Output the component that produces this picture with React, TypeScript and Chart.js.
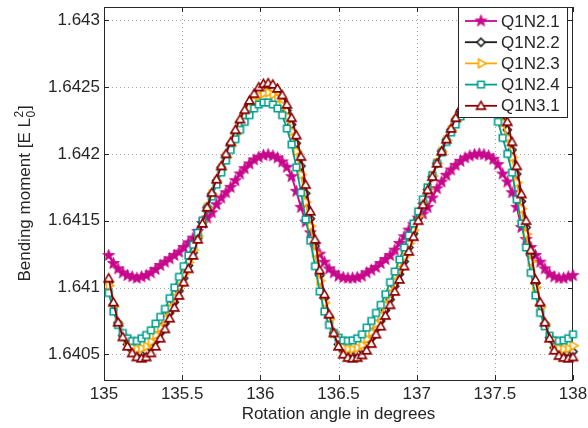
import React, { useEffect, useRef } from 'react';
import { Chart, registerables } from 'chart.js';

Chart.register(...registerables);

// Rotation angle (degrees)
const angles = [
  135.03, 135.06, 135.09, 135.12, 135.15, 135.18, 135.21, 135.24, 135.27, 135.30,
  135.33, 135.36, 135.39, 135.42, 135.45, 135.48, 135.51, 135.54, 135.57, 135.60,
  135.63, 135.66, 135.69, 135.72, 135.75, 135.78, 135.81, 135.84, 135.87, 135.90,
  135.93, 135.96, 135.99, 136.02, 136.05, 136.08, 136.11, 136.14, 136.17, 136.20,
  136.23, 136.26, 136.29, 136.32, 136.35, 136.38, 136.41, 136.44, 136.47, 136.50,
  136.53, 136.56, 136.59, 136.62, 136.65, 136.68, 136.71, 136.74, 136.77, 136.80,
  136.83, 136.86, 136.89, 136.92, 136.95, 136.98, 137.01, 137.04, 137.07, 137.10,
  137.13, 137.16, 137.19, 137.22, 137.25, 137.28, 137.31, 137.34, 137.37, 137.40,
  137.43, 137.46, 137.49, 137.52, 137.55, 137.58, 137.61, 137.64, 137.67, 137.70,
  137.73, 137.76, 137.79, 137.82, 137.85, 137.88, 137.91, 137.94, 137.97, 138.00,
];

const q1n21 = [
  1.64124, 1.64118, 1.64114, 1.64111, 1.64109, 1.64108, 1.64107, 1.64108, 1.64109, 1.64111,
  1.641135, 1.641165, 1.64119, 1.641215, 1.64124, 1.641265, 1.6413, 1.641335, 1.64137, 1.64142,
  1.64148, 1.64152, 1.64156, 1.64162, 1.64167, 1.64171, 1.64175, 1.6418, 1.64185, 1.64189,
  1.641925, 1.641955, 1.641975, 1.64199, 1.641995, 1.641985, 1.64197, 1.64194, 1.6419, 1.64183,
  1.64172, 1.6416, 1.64149, 1.64141, 1.64132, 1.64125, 1.64119, 1.64114, 1.64111, 1.641085,
  1.641075, 1.64107, 1.64107, 1.641075, 1.641085, 1.64111, 1.64113, 1.64115, 1.64118, 1.64121,
  1.64124, 1.64128, 1.64133, 1.64138, 1.64143, 1.64147, 1.64152, 1.64155, 1.6416, 1.64167,
  1.64174, 1.64179, 1.64184, 1.64188, 1.641915, 1.641945, 1.64197, 1.641985, 1.641995, 1.642,
  1.641995, 1.641985, 1.64196, 1.64192, 1.64185, 1.64179, 1.64171, 1.6416, 1.64145, 1.64136,
  1.6413, 1.64124, 1.64119, 1.64114, 1.6411, 1.64108, 1.64107, 1.64107, 1.64108, 1.64109,
];

const q1n22 = [
  1.64104, 1.64087, 1.640735, 1.64064, 1.640575, 1.64053, 1.64051, 1.64051, 1.64052, 1.64055,
  1.6406, 1.64066, 1.64073, 1.64081, 1.64089, 1.640975, 1.64107, 1.641165, 1.64126, 1.64137,
  1.641485, 1.6416, 1.6417, 1.6418, 1.6419, 1.64199, 1.642075, 1.64216, 1.64224, 1.64231,
  1.64237, 1.64242, 1.64247, 1.64249, 1.642495, 1.64248, 1.64245, 1.6424, 1.642325, 1.64222,
  1.64208, 1.64191, 1.641705, 1.641515, 1.64131, 1.64109, 1.64092, 1.64078, 1.64066, 1.640575,
  1.640525, 1.640505, 1.640505, 1.64051, 1.640535, 1.64057, 1.64062, 1.64069, 1.64075, 1.64083,
  1.64091, 1.64101, 1.6411, 1.641195, 1.6413, 1.641405, 1.64152, 1.64163, 1.641735, 1.64183,
  1.64193, 1.64202, 1.642105, 1.64218, 1.64226, 1.642325, 1.64238, 1.642435, 1.64247, 1.64249,
  1.64249, 1.642475, 1.64244, 1.642375, 1.64229, 1.64218, 1.64203, 1.64185, 1.641645, 1.64145,
  1.64124, 1.64103, 1.64087, 1.64073, 1.640625, 1.64055, 1.64052, 1.64051, 1.64051, 1.64052,
];

const q1n23 = [
  1.641015, 1.640855, 1.64073, 1.640645, 1.64059, 1.640555, 1.64054, 1.640545, 1.64056, 1.640595,
  1.640645, 1.6407, 1.640765, 1.640845, 1.640925, 1.64101, 1.6411, 1.64119, 1.64128, 1.641385,
  1.64149, 1.641595, 1.641695, 1.64179, 1.641885, 1.641975, 1.64206, 1.642145, 1.64222, 1.642285,
  1.642345, 1.642395, 1.642435, 1.642455, 1.64246, 1.642445, 1.642415, 1.642365, 1.64228, 1.64217,
  1.64202, 1.641845, 1.64164, 1.64146, 1.64126, 1.64105, 1.640885, 1.64076, 1.64066, 1.64059,
  1.64055, 1.64054, 1.64054, 1.64055, 1.64057, 1.640615, 1.640665, 1.64073, 1.64079, 1.64087,
  1.640955, 1.641045, 1.641135, 1.64123, 1.64133, 1.64143, 1.641535, 1.64164, 1.64174, 1.641835,
  1.64193, 1.642015, 1.6421, 1.642175, 1.642245, 1.64231, 1.64236, 1.64241, 1.64244, 1.642455,
  1.642455, 1.64243, 1.642395, 1.64233, 1.642235, 1.64212, 1.641975, 1.641785, 1.64159, 1.6414,
  1.641195, 1.641, 1.64085, 1.640725, 1.64063, 1.64057, 1.640545, 1.64054, 1.640545, 1.640565,
];

const q1n24 = [
  1.64096, 1.64082, 1.64072, 1.64066, 1.64062, 1.6406, 1.6406, 1.64062, 1.640645, 1.64068,
  1.64073, 1.64078, 1.64084, 1.64092, 1.641, 1.64108, 1.64116, 1.64124, 1.64132, 1.64141,
  1.6415, 1.64159, 1.64168, 1.64177, 1.64186, 1.64195, 1.64203, 1.64211, 1.64218, 1.64224,
  1.64229, 1.64234, 1.64237, 1.642385, 1.642385, 1.64237, 1.64234, 1.64229, 1.64219, 1.64207,
  1.6419, 1.64171, 1.64151, 1.64135, 1.64116, 1.64097, 1.64082, 1.64072, 1.64066, 1.640625,
  1.640605, 1.6406, 1.640605, 1.64062, 1.64065, 1.6407, 1.64075, 1.64081, 1.64087, 1.64095,
  1.64104, 1.64112, 1.64121, 1.6413, 1.64139, 1.64148, 1.64157, 1.64166, 1.64175, 1.64184,
  1.64193, 1.64201, 1.64209, 1.64216, 1.64222, 1.64228, 1.642325, 1.64236, 1.64238, 1.642385,
  1.642375, 1.64235, 1.64231, 1.64224, 1.64212, 1.642, 1.64186, 1.64166, 1.64148, 1.6413,
  1.64111, 1.64094, 1.64081, 1.64071, 1.64064, 1.640605, 1.6406, 1.640605, 1.64062, 1.64065,
];

const q1n31 = [
  1.64107, 1.64089, 1.64074, 1.64063, 1.64056, 1.64051, 1.64048, 1.64047, 1.64048, 1.64051,
  1.64056, 1.64062, 1.64069, 1.64077, 1.64085, 1.64094, 1.64104, 1.64114, 1.64124, 1.64136,
  1.64148, 1.6416, 1.64171, 1.64181, 1.64191, 1.642, 1.64209, 1.64218, 1.64226, 1.64233,
  1.6424, 1.64245, 1.6425, 1.642525, 1.64253, 1.64252, 1.64249, 1.64244, 1.64237, 1.64227,
  1.64214, 1.64198, 1.64177, 1.64157, 1.64136, 1.64113, 1.64095, 1.6408, 1.64066, 1.64056,
  1.6405, 1.640475, 1.64047, 1.640475, 1.640495, 1.64053, 1.64058, 1.64065, 1.64071, 1.64079,
  1.64087, 1.64097, 1.64106, 1.64116, 1.64127, 1.64138, 1.6415, 1.64162, 1.64173, 1.64183,
  1.64193, 1.64202, 1.64211, 1.64219, 1.64227, 1.64234, 1.6424, 1.64246, 1.6425, 1.642525,
  1.64253, 1.642515, 1.64248, 1.64242, 1.64235, 1.64224, 1.64209, 1.64191, 1.6417, 1.6415,
  1.64128, 1.64106, 1.64089, 1.64074, 1.64062, 1.64053, 1.64049, 1.640475, 1.64047, 1.64048,
];

const seriesNames = ['Q1N2.1', 'Q1N2.2', 'Q1N2.3', 'Q1N2.4', 'Q1N3.1'];
const seriesValues = [q1n21, q1n22, q1n23, q1n24, q1n31];
const seriesColors = ['#C8088C', '#1a1a1a', '#FFAA00', '#00A090', '#8B0000'];
const seriesMarkers = ['star', 'diamond', 'triRight', 'square', 'triUp'];

const xTicks = [135, 135.5, 136, 136.5, 137, 137.5, 138];
const xTickLabels = ['135', '135.5', '136', '136.5', '137', '137.5', '138'];
const yTicks = [1.6405, 1.641, 1.6415, 1.642, 1.6425, 1.643];
const yTickLabels = ['1.6405', '1.641', '1.6415', '1.642', '1.6425', '1.643'];

const xTitle = 'Rotation angle in degrees';
const yTitleMain = 'Bending moment [E L';
const yTitleSup = '2';
const yTitleSub = '0';
const yTitleEnd = ']';

const FONT = "'Liberation Sans', Arial, Helvetica, sans-serif";
const TEXT = '#262626';

function makeMarker(kind: string, color: string): HTMLCanvasElement {
  const S = 17;
  const c = document.createElement('canvas');
  c.width = S;
  c.height = S;
  const ctx = c.getContext('2d')!;
  const cx = S / 2;
  const cy = S / 2;
  ctx.strokeStyle = color;
  ctx.fillStyle = '#ffffff';
  ctx.lineWidth = 1.6;
  ctx.lineJoin = 'miter';
  ctx.beginPath();
  if (kind === 'star') {
    const R = 6.2;
    const r = R * 0.42;
    for (let i = 0; i < 10; i++) {
      const a = -Math.PI / 2 + (i * Math.PI) / 5;
      const rr = i % 2 === 0 ? R : r;
      const px = cx + rr * Math.cos(a);
      const py = cy + rr * Math.sin(a);
      if (i === 0) ctx.moveTo(px, py);
      else ctx.lineTo(px, py);
    }
    ctx.closePath();
    ctx.fillStyle = color;
    ctx.lineWidth = 0.8;
  } else if (kind === 'diamond') {
    const h = 4;
    ctx.moveTo(cx, cy - h);
    ctx.lineTo(cx + h, cy);
    ctx.lineTo(cx, cy + h);
    ctx.lineTo(cx - h, cy);
    ctx.closePath();
  } else if (kind === 'triRight') {
    const r = 5;
    for (let i = 0; i < 3; i++) {
      const a = (i * 2 * Math.PI) / 3;
      const px = cx + r * Math.cos(a);
      const py = cy + r * Math.sin(a);
      if (i === 0) ctx.moveTo(px, py);
      else ctx.lineTo(px, py);
    }
    ctx.closePath();
  } else if (kind === 'square') {
    const h = 3.3;
    ctx.rect(cx - h, cy - h, 2 * h, 2 * h);
  } else {
    const r = 5.2;
    for (let i = 0; i < 3; i++) {
      const a = -Math.PI / 2 + (i * 2 * Math.PI) / 3;
      const px = cx + r * Math.cos(a);
      const py = cy + 0.8 + r * Math.sin(a);
      if (i === 0) ctx.moveTo(px, py);
      else ctx.lineTo(px, py);
    }
    ctx.closePath();
  }
  ctx.fill();
  ctx.stroke();
  return c;
}

function nearestLabel(v: number, ticks: number[], labels: string[]): string {
  let best = 0;
  for (let i = 1; i < ticks.length; i++) {
    if (Math.abs(ticks[i] - v) < Math.abs(ticks[best] - v)) best = i;
  }
  return labels[best];
}

export default function App() {
  const ref = useRef<HTMLCanvasElement>(null);

  useEffect(() => {
    const canvas = ref.current;
    if (!canvas) return;
    const markerImgs = seriesMarkers.map((m, i) => makeMarker(m, seriesColors[i]));

    const decor = {
      id: 'matlabDecor',
      beforeDatasetsDraw(chart: any) {
        const { ctx, chartArea } = chart;
        const xs = chart.scales.x;
        const ys = chart.scales.y;
        const L = Math.round(chartArea.left);
        const R = Math.round(chartArea.right);
        const T = Math.round(chartArea.top);
        const B = Math.round(chartArea.bottom);
        ctx.save();
        // dotted grid
        ctx.strokeStyle = '#a8a8a8';
        ctx.lineWidth = 1;
        ctx.setLineDash([1, 3]);
        xTicks.forEach((v) => {
          const px = Math.round(xs.getPixelForValue(v)) + 0.5;
          if (px <= L + 1 || px >= R - 1) return;
          ctx.beginPath();
          ctx.moveTo(px, T);
          ctx.lineTo(px, B);
          ctx.stroke();
        });
        yTicks.forEach((v) => {
          const py = Math.round(ys.getPixelForValue(v)) + 0.5;
          ctx.beginPath();
          ctx.moveTo(L, py);
          ctx.lineTo(R, py);
          ctx.stroke();
        });
        ctx.setLineDash([]);
        // frame
        ctx.strokeStyle = TEXT;
        ctx.lineWidth = 1;
        ctx.strokeRect(L + 0.5, T + 0.5, R - L - 1, B - T);
        // inward tick marks
        const tl = 5;
        ctx.beginPath();
        xTicks.forEach((v) => {
          const px = Math.round(xs.getPixelForValue(v)) + 0.5;
          ctx.moveTo(px, B);
          ctx.lineTo(px, B - tl);
          ctx.moveTo(px, T);
          ctx.lineTo(px, T + tl);
        });
        yTicks.forEach((v) => {
          const py = Math.round(ys.getPixelForValue(v)) + 0.5;
          ctx.moveTo(L, py);
          ctx.lineTo(L + tl, py);
          ctx.moveTo(R, py);
          ctx.lineTo(R - tl, py);
        });
        ctx.stroke();
        ctx.restore();
      },
      afterDraw(chart: any) {
        const { ctx, chartArea } = chart;
        ctx.save();
        // x title
        ctx.fillStyle = TEXT;
        ctx.font = `17px ${FONT}`;
        ctx.textAlign = 'center';
        ctx.textBaseline = 'alphabetic';
        ctx.fillText(xTitle, (chartArea.left + chartArea.right) / 2, 418.5);
        // y title with stacked super/subscript
        ctx.save();
        ctx.translate(30, (chartArea.top + chartArea.bottom) / 2);
        ctx.rotate(-Math.PI / 2);
        ctx.textAlign = 'left';
        ctx.font = `17px ${FONT}`;
        const w1 = ctx.measureText(yTitleMain).width;
        const w3 = ctx.measureText(yTitleEnd).width;
        ctx.font = `12px ${FONT}`;
        const w2 = Math.max(ctx.measureText(yTitleSup).width, ctx.measureText(yTitleSub).width);
        const total = w1 + w2 + 1.5 + w3;
        const x0 = -total / 2;
        ctx.font = `17px ${FONT}`;
        ctx.fillText(yTitleMain, x0, 0);
        ctx.font = `12px ${FONT}`;
        ctx.fillText(yTitleSup, x0 + w1 + 0.5, -7.5);
        ctx.fillText(yTitleSub, x0 + w1 + 0.5, 4.5);
        ctx.font = `17px ${FONT}`;
        ctx.fillText(yTitleEnd, x0 + w1 + w2 + 1.5, 0);
        ctx.restore();
        // legend
        const bx = 458;
        const by = 7;
        const bw = 110;
        const bh = 110;
        ctx.fillStyle = '#ffffff';
        ctx.fillRect(bx, by, bw, bh);
        ctx.strokeStyle = TEXT;
        ctx.lineWidth = 1;
        ctx.strokeRect(bx + 0.5, by + 0.5, bw - 1, bh);
        ctx.font = `17px ${FONT}`;
        ctx.textAlign = 'left';
        ctx.textBaseline = 'middle';
        seriesNames.forEach((name, i) => {
          const y = 21 + i * 21.2;
          ctx.strokeStyle = seriesColors[i];
          ctx.lineWidth = 1.8;
          ctx.beginPath();
          ctx.moveTo(465, y);
          ctx.lineTo(497, y);
          ctx.stroke();
          const img = markerImgs[i];
          ctx.drawImage(img, 481 - img.width / 2, y - img.height / 2);
          ctx.fillStyle = TEXT;
          ctx.fillText(name, 501, y + 1);
        });
        ctx.restore();
      },
    };

    const datasets = seriesNames.map((name, i) => ({
      label: name,
      data: angles.map((a, k) => ({ x: a, y: seriesValues[i][k] })),
      borderColor: seriesColors[i],
      backgroundColor: seriesColors[i],
      borderWidth: 1.8,
      pointStyle: markerImgs[i] as any,
      pointRadius: 5,
      pointHoverRadius: 5,
      tension: 0,
      fill: false,
      clip: false as any,
      order: seriesNames.length - i,
    }));

    const chart = new Chart(canvas, {
      type: 'line',
      data: { datasets },
      plugins: [decor],
      options: {
        responsive: false,
        animation: false,
        devicePixelRatio: 1,
        events: [],
        layout: { padding: { left: 0, right: 15, top: 2, bottom: 0 } },
        plugins: {
          legend: { display: false },
          tooltip: { enabled: false },
          title: { display: false },
        },
        scales: {
          x: {
            type: 'linear',
            min: 135,
            max: 138,
            grid: { display: false, drawTicks: false },
            border: { display: false },
            ticks: {
              font: { family: FONT, size: 17 },
              color: TEXT,
              padding: 4,
              maxRotation: 0,
              autoSkip: false,
              callback: (v: any) => nearestLabel(Number(v), xTicks, xTickLabels),
            },
            afterBuildTicks: (s: any) => {
              s.ticks = xTicks.map((v) => ({ value: v }));
            },
            afterFit: (s: any) => {
              s.height = 48;
              s.paddingLeft = 0;
              s.paddingRight = 0;
            },
          },
          y: {
            type: 'linear',
            min: 1.640308,
            max: 1.643101,
            grid: { display: false, drawTicks: false },
            border: { display: false },
            ticks: {
              font: { family: FONT, size: 17 },
              color: TEXT,
              padding: 4,
              autoSkip: false,
              callback: (v: any) => nearestLabel(Number(v), yTicks, yTickLabels),
            },
            afterBuildTicks: (s: any) => {
              s.ticks = yTicks.map((v) => ({ value: v }));
            },
            afterFit: (s: any) => {
              s.width = 104;
              s.paddingTop = 0;
              s.paddingBottom = 0;
            },
          },
        },
      },
    });

    return () => chart.destroy();
  }, []);

  return (
    <div style={{ position: 'fixed', left: 0, top: 0, width: 588, height: 428, background: '#ffffff' }}>
      <canvas ref={ref} width={588} height={428} style={{ display: 'block', width: 588, height: 428 }} />
    </div>
  );
}
